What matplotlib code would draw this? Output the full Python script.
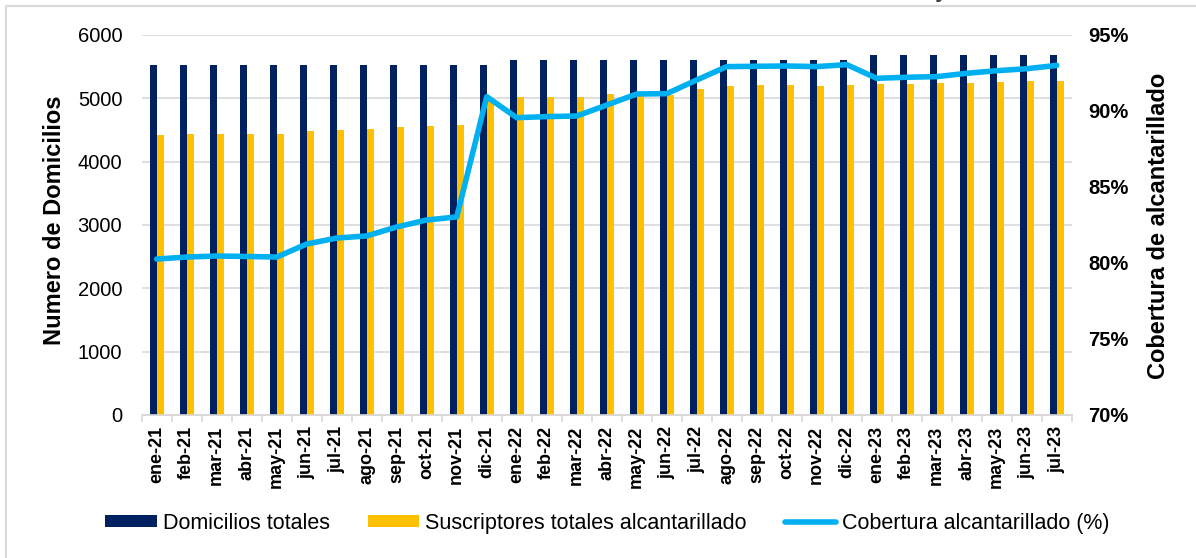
import numpy as np
import matplotlib.pyplot as plt
from matplotlib.patches import Rectangle
from matplotlib.ticker import FixedLocator, FuncFormatter

plt.rcParams['font.family'] = ['Liberation Sans', 'DejaVu Sans']

meses = ['ene-21', 'feb-21', 'mar-21', 'abr-21', 'may-21', 'jun-21', 'jul-21', 'ago-21',
         'sep-21', 'oct-21', 'nov-21', 'dic-21', 'ene-22', 'feb-22', 'mar-22', 'abr-22',
         'may-22', 'jun-22', 'jul-22', 'ago-22', 'sep-22', 'oct-22', 'nov-22', 'dic-22',
         'ene-23', 'feb-23', 'mar-23', 'abr-23', 'may-23', 'jun-23', 'jul-23']

domicilios = [5520] * 12 + [5610] * 12 + [5685] * 7

suscriptores = [4421, 4437, 4442, 4437, 4437, 4479, 4500, 4511, 4543, 4563, 4574, 5010,
                5016, 5016, 5020, 5063, 5050, 5053, 5148, 5200, 5211, 5211, 5200, 5211,
                5232, 5232, 5242, 5247, 5258, 5274, 5279]

cobertura = [80.26, 80.39, 80.46, 80.43, 80.39, 81.25, 81.64, 81.78, 82.37, 82.83, 83.03, 90.94,
             89.56, 89.63, 89.67, 90.39, 91.12, 91.14, 92.04, 92.92, 92.94, 92.96, 92.92, 93.05,
             92.15, 92.22, 92.26, 92.48, 92.65, 92.78, 93.00]

azul = '#002060'
amarillo = '#FFC000'
celeste = '#00B0F0'
gris = '#d9d9d9'

x = np.arange(len(meses))

fig = plt.figure(figsize=(11.96, 5.58), dpi=100)
ax = fig.add_axes([0.1185, 0.2563, 0.7776, 0.681])
ax2 = ax.twinx()

b1 = ax.bar(x - 0.12, domicilios, width=0.24, color=azul, label='Domicilios totales', zorder=3)
b2 = ax.bar(x + 0.12, suscriptores, width=0.22, color=amarillo,
            label='Suscriptores totales alcantarillado', zorder=3)
l1, = ax2.plot(x, cobertura, color=celeste, lw=4, solid_capstyle='round',
               solid_joinstyle='round', label='Cobertura alcantarillado (%)')

ax.set_xlim(-0.5, len(meses) - 0.5)
ax.set_ylim(0, 6000)
ax.set_yticks(range(0, 6001, 1000))
ax.grid(axis='y', color=gris, lw=1.2, zorder=0)
ax.set_axisbelow(True)

ax2.set_ylim(70, 95)
ax2.set_yticks(range(70, 96, 5))
ax2.yaxis.set_major_formatter(FuncFormatter(lambda v, p: f'{v:.0f}%'))

for a in (ax, ax2):
    for s in ('top', 'left', 'right'):
        a.spines[s].set_visible(False)
    a.spines['bottom'].set_color(gris)
    a.spines['bottom'].set_linewidth(1.2)

ax.set_xticks(x)
ax.set_xticklabels(meses, rotation=90, fontsize=13, fontweight='bold')
ax.xaxis.set_minor_locator(FixedLocator(np.arange(-0.5, len(meses), 1)))
ax.tick_params(axis='x', which='major', length=0, pad=8)
ax.tick_params(axis='x', which='minor', length=5, color=gris, width=1.2)
ax.tick_params(axis='y', length=0, pad=14, labelsize=14.5)
ax2.tick_params(axis='y', length=0, pad=12, labelsize=14.5)
for t in ax2.get_yticklabels():
    t.set_fontweight('bold')

ax.set_ylabel('Numero de Domicilios', fontsize=17, fontweight='bold')
ax.yaxis.set_label_coords(-0.0814, 0.513)
ax2.set_ylabel('Cobertura de alcantarillado', fontsize=17, fontweight='bold', rotation=90)
ax2.yaxis.set_label_coords(1.081, 0.497)

fig.legend(handles=[b1, b2, l1], loc='center', bbox_to_anchor=(0.508, 0.062), ncol=3,
           frameon=False, fontsize=15.5, handlelength=2.4, handletextpad=0.28,
           columnspacing=1.75, handleheight=0.5)

# titulo recortado en el borde superior
fig.text(0.5, 1.006, 'Gráfica 1. Cobertura del servicio de alcantarillado de enero 2021 a julio 2023',
         ha='center', va='baseline', fontsize=18, fontweight='bold', color='#404040')

# marco exterior del grafico
fig.add_artist(Rectangle((6 / 1196, -0.05), 1.2, 1 - 6 / 558 + 0.05, transform=fig.transFigure,
                         fill=False, edgecolor=gris, lw=1.5))

fig.savefig('out.png', dpi=100)
